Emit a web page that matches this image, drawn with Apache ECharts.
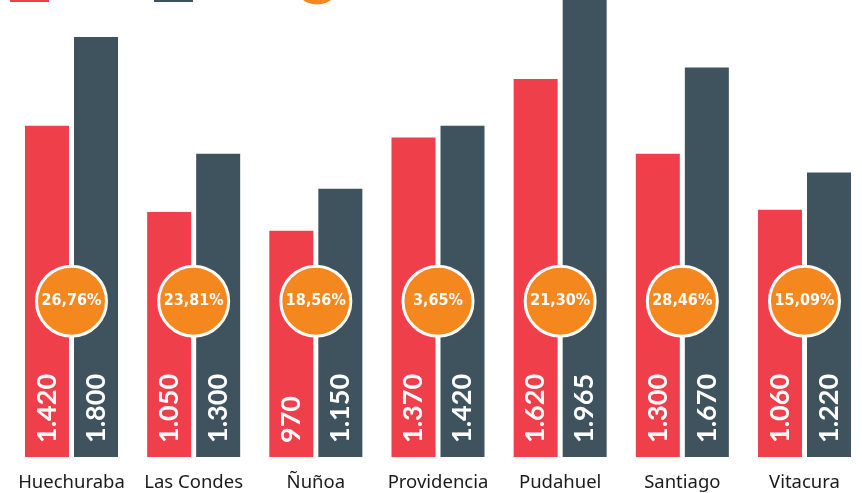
<!DOCTYPE html>
<html>
<head>
<meta charset="utf-8">
<script src="https://cdn.jsdelivr.net/npm/echarts@6/dist/echarts.min.js"></script>
<style>
html,body{margin:0;padding:0;background:#fff;}
#chart{width:862px;height:493px;}
</style>
</head>
<body>
<div id="chart"></div>
<script>
var categories = ['Huechuraba', 'Las Condes', 'Ñuñoa', 'Providencia', 'Pudahuel', 'Santiago', 'Vitacura'];
var series2016 = [1420, 1050, 970, 1370, 1620, 1300, 1060];
var series2017 = [1800, 1300, 1150, 1420, 1965, 1670, 1220];
var variation = ['26,76%', '23,81%', '18,56%', '3,65%', '21,30%', '28,46%', '15,09%'];

var RED = '#ee3f4b', DARK = '#3e535e', ORANGE = '#f5871f';
var CIRCLE_LEVEL = 668;
var Y_MAX = 1959;

function fmt(v) {
  var s = String(v);
  if (s.length > 3) s = s.slice(0, s.length - 3) + '.' + s.slice(s.length - 3);
  return s;
}

var valueLabel = {
  show: true,
  position: 'insideBottom',
  distance: 14,
  rotate: 90,
  align: 'left',
  verticalAlign: 'middle',
  color: '#fff',
  fontFamily: 'Lato',
  fontWeight: 'bold',
  fontSize: 27,
  formatter: function (p) { return fmt(p.value); }
};

var chart = echarts.init(document.getElementById('chart'), null, {renderer: 'canvas'});
chart.setOption({
  animation: false,
  grid: {left: 71.5, width: 733, top: 0, height: 457, containLabel: false},
  xAxis: {
    type: 'category',
    data: categories,
    boundaryGap: false,
    axisLine: {show: false},
    axisTick: {show: false},
    splitLine: {show: false},
    axisLabel: {interval: 0, color: '#1a1a1a', fontFamily: 'Noto Sans', fontSize: 18.5, margin: 16}
  },
  yAxis: {
    type: 'value', min: 0, max: Y_MAX,
    show: false,
    splitLine: {show: false}
  },
  graphic: [
    {type: 'rect', shape: {x: 10, y: -10, width: 39, height: 12}, style: {fill: RED}},
    {type: 'rect', shape: {x: 154, y: -10, width: 39, height: 12}, style: {fill: DARK}},
    {type: 'circle', shape: {cx: 317, cy: -19.5, r: 24}, style: {fill: ORANGE}}
  ],
  series: [
    {type: 'bar', data: series2016, barWidth: 44, barGap: '11.4%', clip: false, itemStyle: {color: RED}, label: valueLabel},
    {type: 'bar', data: series2017, barWidth: 44, clip: false, itemStyle: {color: DARK}, label: valueLabel},
    {
      type: 'scatter',
      data: variation.map(function (t) { return CIRCLE_LEVEL; }),
      symbolSize: 70,
      clip: false,
      itemStyle: {color: ORANGE, borderColor: '#fff', borderWidth: 3, opacity: 1},
      label: {
        show: true, position: 'inside', color: '#fff',
        fontFamily: '"DejaVu Sans Condensed"', fontWeight: 'bold', fontSize: 16,
        formatter: function (p) { return variation[p.dataIndex]; }
      },
      z: 5
    }
  ]
});
</script>
</body>
</html>
